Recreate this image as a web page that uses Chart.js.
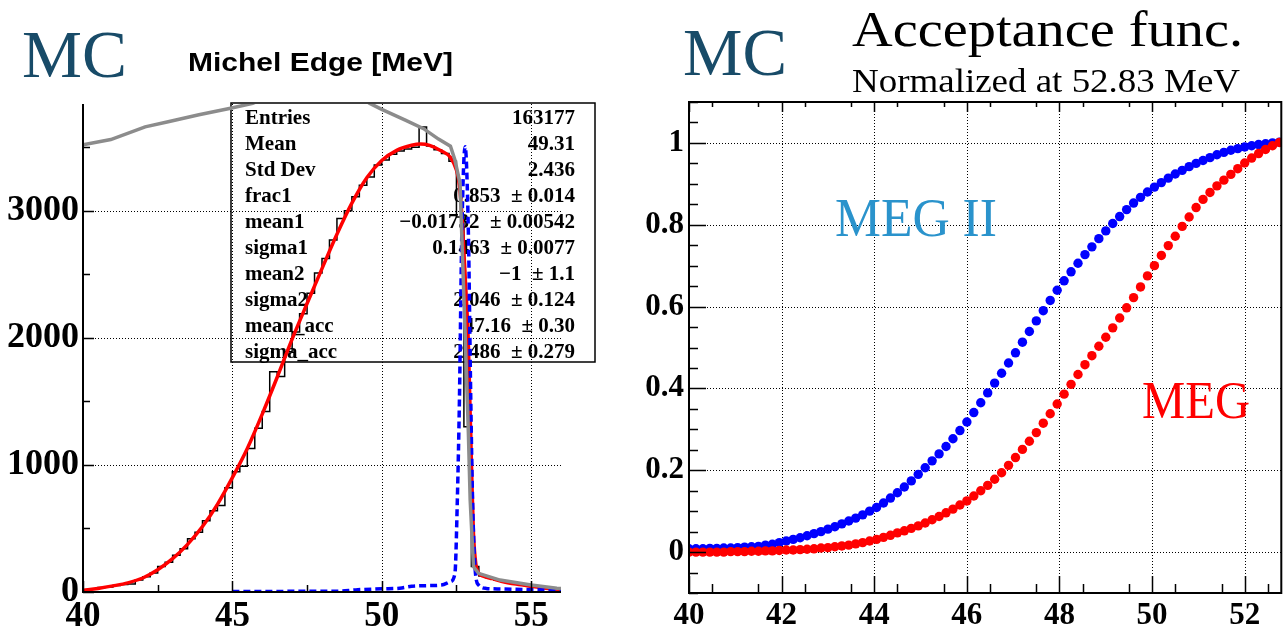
<!DOCTYPE html>
<html>
<head>
  <title>Michel Edge / Acceptance func.</title>
  <script src="https://cdn.jsdelivr.net/npm/chart.js"></script>
  <style>
    body {
      margin: 0;
      background-color: #FFFFFF;
      overflow: hidden;
    }
    #leftChart { position: absolute; left: 0; top: 0; }
    #rightChart { position: absolute; left: 640px; top: 0; }
  </style>
</head>
<body>
  <canvas id="leftChart" width="640" height="629"></canvas>
  <canvas id="rightChart" width="646" height="629"></canvas>

  <script>
    // ---- left panel: Michel edge histogram + fit ----
    const histLow = 40;
    const binWidth = 0.25;
    const histCounts = [
      15, 22, 35, 40, 52, 60, 62, 95, 120, 150, 200, 235, 290, 340, 420, 470,
      560, 640, 680, 820, 947, 990, 1130, 1288, 1420, 1733, 1695, 1890, 2045, 2190, 2350, 2510,
      2625, 2770, 2940, 3000, 3110, 3200, 3265, 3360, 3400, 3445, 3470, 3485, 3500, 3660, 3510, 3480,
      3450, 3390, 2950, 1300, 200, 125, 110, 95, 85, 72, 62, 52, 44, 35, 25, 18
    ];

    const fitX = [40, 40.5, 41, 41.5, 42, 42.5, 43, 43.5, 44, 44.5, 45, 45.5, 46, 46.5, 47, 47.5, 48, 48.5, 49, 49.5,
      50, 50.5, 51, 51.3, 51.6, 52, 52.3, 52.5, 52.6, 52.7, 52.8, 52.9, 52.96, 53.02, 53.07, 53.15, 53.24, 53.4, 53.7,
      54, 54.5, 55, 55.5, 56];
    const fitY = [12, 28, 48, 72, 110, 175, 262, 375, 515, 690, 900, 1130, 1400, 1690, 1990, 2270, 2545, 2815, 3060, 3260,
      3395, 3475, 3515, 3525, 3515, 3470, 3420, 3320, 3200, 2900, 2450, 1950, 1400, 850, 460, 220, 150, 125, 105,
      85, 62, 45, 30, 20];

    const accLineX = [40, 40.93, 42.08, 42.85, 43.88, 44.9, 45.68, 46.5, 47.5, 48.5, 49.2, 49.6, 50, 50.77, 51.4, 51.9,
      52.3, 52.45, 52.62, 52.79, 52.9, 52.96, 53.07, 53.24, 53.96, 55, 55.86, 56];
    const accLineY = [3520, 3560, 3660, 3700, 3755, 3805, 3845, 3930, 3990, 3970, 3900, 3845, 3798, 3715, 3646, 3564,
      3508, 3399, 3215, 2036, 1250, 724, 199, 147, 94, 55, 29, 27];

    const respX = [45, 46, 47, 48, 48.5, 49.2, 50, 50.6, 51, 51.5, 52, 52.29, 52.45, 52.53, 52.6, 52.68, 52.79,
      52.9, 52.98, 53.04, 53.12, 53.24, 53.5, 54, 55, 56];
    const respY = [4, 4, 5, 5, 6, 18, 25, 30, 45, 50, 55, 81, 147, 724, 1511, 2822, 3504,
      2822, 1511, 724, 199, 55, 28, 24, 18, 14];

    const leftXTicks = [40, 45, 50, 55];
    const leftXMinor = [42.5, 47.5, 52.5];
    const leftYTicks = [0, 1000, 2000, 3000];
    const leftYMinor = [500, 1500, 2500, 3500];

    const statNames = ['Entries', 'Mean', 'Std Dev', 'frac1', 'mean1', 'sigma1', 'mean2', 'sigma2', 'mean_acc', 'sigma_acc'];
    const statValues = ['163177', '49.31', '2.436', '0.853  \u00b1 0.014', '\u22120.01732  \u00b1 0.00542',
      '0.1463  \u00b1 0.0077', '\u22121  \u00b1 1.1', '2.046  \u00b1 0.124', '47.16  \u00b1 0.30', '2.486  \u00b1 0.279'];

    // ---- right panel: acceptance function ----
    const accX = [40.00, 40.15, 40.30, 40.45, 40.60, 40.75, 40.90, 41.05, 41.20, 41.35, 41.50, 41.65, 41.80, 41.95,
      42.10, 42.25, 42.40, 42.55, 42.70, 42.85, 43.00, 43.15, 43.30, 43.45, 43.60, 43.75, 43.90, 44.05, 44.20, 44.35,
      44.50, 44.65, 44.80, 44.95, 45.10, 45.25, 45.40, 45.55, 45.70, 45.85, 46.00, 46.15, 46.30, 46.45, 46.60, 46.75,
      46.90, 47.05, 47.20, 47.35, 47.50, 47.65, 47.80, 47.95, 48.10, 48.25, 48.40, 48.55, 48.70, 48.85, 49.00, 49.15,
      49.30, 49.45, 49.60, 49.75, 49.90, 50.05, 50.20, 50.35, 50.50, 50.65, 50.80, 50.95, 51.10, 51.25, 51.40, 51.55,
      51.70, 51.85, 52.00, 52.15, 52.30, 52.45, 52.60, 52.75];
    const megIIAcc = [0.008, 0.008, 0.008, 0.009, 0.009, 0.010, 0.010, 0.011, 0.012, 0.013, 0.014, 0.017, 0.019, 0.023,
      0.027, 0.031, 0.035, 0.040, 0.045, 0.050, 0.056, 0.062, 0.069, 0.076, 0.083, 0.091, 0.100, 0.109, 0.120, 0.132,
      0.145, 0.159, 0.174, 0.190, 0.206, 0.223, 0.240, 0.258, 0.277, 0.297, 0.318, 0.341, 0.365, 0.389, 0.413, 0.437,
      0.462, 0.487, 0.513, 0.539, 0.565, 0.590, 0.615, 0.640, 0.663, 0.685, 0.706, 0.727, 0.746, 0.766, 0.785, 0.803,
      0.820, 0.837, 0.853, 0.867, 0.880, 0.892, 0.903, 0.914, 0.924, 0.933, 0.942, 0.950, 0.957, 0.964, 0.971, 0.977,
      0.982, 0.986, 0.990, 0.993, 0.996, 0.998, 1.000, 1.002];
    const megAcc = [0.000, 0.000, 0.000, 0.000, 0.000, 0.000, 0.001, 0.001, 0.001, 0.002, 0.002, 0.003, 0.003, 0.004,
      0.005, 0.005, 0.006, 0.007, 0.008, 0.010, 0.011, 0.013, 0.015, 0.017, 0.020, 0.023, 0.027, 0.031, 0.036, 0.041,
      0.047, 0.052, 0.058, 0.064, 0.071, 0.079, 0.087, 0.096, 0.105, 0.115, 0.125, 0.137, 0.150, 0.163, 0.178, 0.194,
      0.212, 0.231, 0.251, 0.271, 0.292, 0.315, 0.338, 0.362, 0.386, 0.410, 0.434, 0.458, 0.480, 0.503, 0.525, 0.548,
      0.572, 0.597, 0.622, 0.648, 0.675, 0.700, 0.725, 0.749, 0.772, 0.796, 0.819, 0.842, 0.862, 0.879, 0.895, 0.909,
      0.923, 0.937, 0.951, 0.963, 0.974, 0.984, 0.993, 1.001];

    const rightXTicks = [40, 42, 44, 46, 48, 50, 52];
    const rightYTicks = [0, 0.2, 0.4, 0.6, 0.8, 1];

    const serif = '"Liberation Serif", "Times New Roman", serif';
    const sans = '"Liberation Sans", Arial, sans-serif';

    // text squeezed/stretched to the width it has in the picture
    const fitText = (ctx, text, x, y, font, color, width) => {
      ctx.save();
      ctx.font = font;
      ctx.fillStyle = color;
      ctx.textBaseline = 'alphabetic';
      ctx.textAlign = 'left';
      const w = ctx.measureText(text).width;
      ctx.translate(x, y);
      ctx.scale(width / w, 1);
      ctx.fillText(text, 0, 0);
      ctx.restore();
    };

    const toPoints = (xs, ys) => xs.map((x, i) => ({ x: x, y: ys[i] }));

    // ROOT-like frame: dotted grid below the data, ticks inside the frame on top
    const rootPlugin = (cfg) => ({
      id: 'rootStyle',
      beforeDatasetsDraw(chart) {
        const { ctx, chartArea: a, scales: { x, y } } = chart;
        ctx.save();
        ctx.strokeStyle = '#000000';
        ctx.lineWidth = 1;
        ctx.setLineDash([1, 2]);
        ctx.beginPath();
        cfg.gridX.forEach((v) => {
          const px = Math.round(x.getPixelForValue(v)) + 0.5;
          ctx.moveTo(px, a.top);
          ctx.lineTo(px, a.bottom);
        });
        cfg.gridY.forEach((v) => {
          const py = Math.round(y.getPixelForValue(v)) + 0.5;
          ctx.moveTo(a.left, py);
          ctx.lineTo(a.right, py);
        });
        ctx.stroke();
        ctx.restore();
        if (cfg.under) cfg.under(ctx, chart);
      },
      afterDatasetsDraw(chart) {
        const { ctx, chartArea: a, scales: { x, y } } = chart;
        ctx.save();
        ctx.strokeStyle = '#000000';
        ctx.lineWidth = 2;
        ctx.beginPath();
        ctx.moveTo(a.left, a.top);
        ctx.lineTo(a.left, a.bottom);
        ctx.lineTo(a.right, a.bottom);
        if (cfg.fullFrame) {
          ctx.lineTo(a.right, a.top);
          ctx.closePath();
        }
        ctx.stroke();

        ctx.lineWidth = 1.5;
        ctx.beginPath();
        const tickX = (vals, len, top) => vals.forEach((v) => {
          const px = Math.round(x.getPixelForValue(v)) + 0.5;
          ctx.moveTo(px, a.bottom);
          ctx.lineTo(px, a.bottom - len);
          if (top) {
            ctx.moveTo(px, a.top);
            ctx.lineTo(px, a.top + top);
          }
        });
        const tickY = (vals, len) => vals.forEach((v) => {
          const py = Math.round(y.getPixelForValue(v)) + 0.5;
          ctx.moveTo(a.left, py);
          ctx.lineTo(a.left + len, py);
        });
        tickX(cfg.xMajor, cfg.majorLen, cfg.topMajor);
        tickX(cfg.xMinor, cfg.minorLen, cfg.topMinor);
        tickY(cfg.yMajor, cfg.majorLen);
        tickY(cfg.yMinor, cfg.minorLen);
        ctx.stroke();
        ctx.restore();
      },
      afterDraw(chart) {
        if (cfg.texts) cfg.texts(chart.ctx);
      }
    });

    const axisFont = (size) => ({ family: serif, size: size, weight: 'bold' });
    const noGrid = { display: false, drawTicks: false };

    // ---- left chart ----
    // one point per bin low edge, plus the upper edge of the last bin
    const histPoints = histCounts.map((c, i) => ({ x: histLow + i * binWidth, y: c }));
    histPoints.push({ x: histLow + histCounts.length * binWidth, y: histCounts[histCounts.length - 1] });

    const drawStats = (ctx) => {
      ctx.save();
      ctx.strokeStyle = '#000000';
      ctx.lineWidth = 1.5;
      ctx.strokeRect(231, 103, 364, 259);
      ctx.font = 'bold 21px ' + serif;
      ctx.fillStyle = '#000000';
      ctx.textBaseline = 'middle';
      statNames.forEach((name, i) => {
        const cy = 119 + i * 25.9;
        ctx.textAlign = 'left';
        ctx.fillText(name, 245, cy);
        ctx.textAlign = 'right';
        ctx.fillText(statValues[i], 575, cy);
      });
      ctx.restore();
    };

    new Chart(document.getElementById('leftChart').getContext('2d'), {
      type: 'line',
      data: {
        datasets: [
          {
            label: 'acceptance',
            data: toPoints(accLineX, accLineY),
            borderColor: '#8c8c8c',
            borderWidth: 3.5,
            pointRadius: 0,
            tension: 0,
            order: 0,
          },
          {
            label: 'response',
            data: toPoints(respX, respY),
            borderColor: '#0000ff',
            borderWidth: 3.5,
            borderDash: [7, 4],
            pointRadius: 0,
            cubicInterpolationMode: 'monotone',
            order: 1,
          },
          {
            label: 'fit',
            data: toPoints(fitX, fitY),
            borderColor: '#ff0000',
            borderWidth: 3.5,
            pointRadius: 0,
            cubicInterpolationMode: 'monotone',
            order: 2,
          },
          {
            label: 'Michel Edge',
            data: histPoints,
            borderColor: '#000000',
            borderWidth: 1.5,
            pointRadius: 0,
            stepped: 'before', // horizontal first: each count spans its own bin
            order: 3,
          },
        ],
      },
      options: {
        responsive: false,
        animation: false,
        events: [],
        layout: { padding: { left: 0, top: 104, right: 79, bottom: 0 } },
        plugins: { legend: { display: false }, tooltip: { enabled: false } },
        scales: {
          x: {
            type: 'linear',
            min: 40,
            max: 56,
            grid: noGrid,
            border: { display: false },
            afterBuildTicks: (s) => { s.ticks = leftXTicks.map((v) => ({ value: v })); },
            afterFit: (s) => { s.height = 37; },
            ticks: { color: '#000000', font: axisFont(35), padding: 4, autoSkip: false, maxRotation: 0, callback: (v) => String(v) },
          },
          y: {
            type: 'linear',
            min: 0,
            max: 3840,
            grid: noGrid,
            border: { display: false },
            afterBuildTicks: (s) => { s.ticks = leftYTicks.map((v) => ({ value: v })); },
            afterFit: (s) => { s.width = 83; },
            ticks: { color: '#000000', font: axisFont(36), padding: 4, autoSkip: false, callback: (v) => String(v) },
          },
        },
      },
      plugins: [rootPlugin({
        gridX: [45, 50, 55],
        gridY: [1000, 2000, 3000],
        xMajor: leftXTicks, xMinor: leftXMinor,
        yMajor: leftYTicks, yMinor: leftYMinor,
        majorLen: 11, minorLen: 7,
        fullFrame: false,
        under: drawStats,
        texts: (ctx) => {
          fitText(ctx, 'MC', 22, 77, '68px ' + serif, '#184b68', 105);
          fitText(ctx, 'Michel Edge [MeV]', 188, 71, 'bold 25px ' + sans, '#000000', 265);
        },
      })],
    });

    // ---- right chart ----
    const rightXMinor = [];
    for (let v = 40.5; v < 52.8; v += 1) rightXMinor.push(v);
    const rightYMinor = [];
    for (let k = -2; k <= 22; k++) if (k % 4 !== 0) rightYMinor.push(k * 0.05);

    new Chart(document.getElementById('rightChart').getContext('2d'), {
      type: 'scatter',
      data: {
        datasets: [
          {
            label: 'MEG',
            data: toPoints(accX, megAcc),
            backgroundColor: '#ff0000',
            borderWidth: 0,
            pointRadius: 4.7,
            order: 0,
          },
          {
            label: 'MEG II',
            data: toPoints(accX, megIIAcc),
            backgroundColor: '#0000ff',
            borderWidth: 0,
            pointRadius: 4.7,
            order: 1,
          },
        ],
      },
      options: {
        responsive: false,
        animation: false,
        events: [],
        layout: { padding: { left: 0, top: 102, right: 0, bottom: 0 } },
        plugins: { legend: { display: false }, tooltip: { enabled: false } },
        scales: {
          x: {
            type: 'linear',
            min: 40,
            max: 52.79,
            grid: noGrid,
            border: { display: false },
            afterBuildTicks: (s) => { s.ticks = rightXTicks.map((v) => ({ value: v })); },
            afterFit: (s) => { s.height = 36; },
            ticks: { color: '#000000', font: axisFont(31), padding: 4, autoSkip: false, maxRotation: 0, callback: (v) => String(v) },
          },
          y: {
            type: 'linear',
            min: -0.1,
            max: 1.1,
            grid: noGrid,
            border: { display: false },
            afterBuildTicks: (s) => { s.ticks = rightYTicks.map((v) => ({ value: v })); },
            afterFit: (s) => { s.width = 49; },
            ticks: { color: '#000000', font: axisFont(31), padding: 5, autoSkip: false, callback: (v) => String(v) },
          },
        },
      },
      plugins: [rootPlugin({
        gridX: [42, 44, 46, 48, 50, 52],
        gridY: rightYTicks,
        xMajor: rightXTicks, xMinor: rightXMinor,
        yMajor: rightYTicks, yMinor: rightYMinor,
        majorLen: 17, minorLen: 9,
        topMajor: 10, topMinor: 5,
        fullFrame: true,
        texts: (ctx) => {
          fitText(ctx, 'MC', 43, 75, '68px ' + serif, '#184b68', 104);
          fitText(ctx, 'Acceptance func.', 212, 46, '50px ' + serif, '#000000', 391);
          fitText(ctx, 'Normalized at 52.83 MeV', 212, 92, '33px ' + serif, '#000000', 388);
          fitText(ctx, 'MEG II', 195, 236, '54px ' + serif, '#2a93cc', 162);
          fitText(ctx, 'MEG', 502, 418, '52px ' + serif, '#ff0000', 108);
        },
      })],
    });
  </script>
</body>
</html>
